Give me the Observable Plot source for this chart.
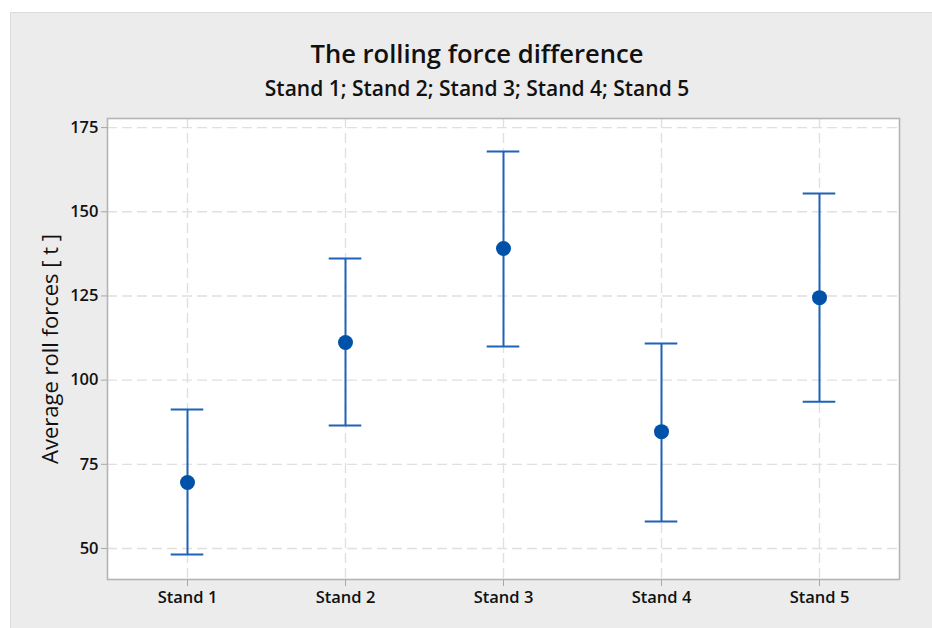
<!DOCTYPE html>
<html>
<head>
<meta charset="utf-8">
<script src="https://cdn.jsdelivr.net/npm/d3@7"></script>
<script src="https://cdn.jsdelivr.net/npm/@observablehq/plot@0.6"></script>
<style>
  html, body { margin: 0; padding: 0; background: #ffffff; }
  #panel {
    position: absolute; left: 10px; top: 12px; width: 922px; height: 616px;
    background: #ececec; border-top: 1px solid #dcdcdc; border-left: 1px solid #dcdcdc;
    box-sizing: border-box; font-family: "Open Sans", sans-serif; color: #111;
  }
  #title { position: absolute; left: 0; width: 932px; top: 23px; text-align: center;
    font-size: 25.6px; font-weight: 600; }
  #subtitle { position: absolute; left: 0; width: 932px; top: 61px; text-align: center;
    font-size: 21px; font-weight: 600; }
  #chart { position: absolute; left: -1px; top: 91px; }
</style>
</head>
<body>
<div id="panel">
  <div id="title">The rolling force difference</div>
  <div id="subtitle">Stand 1; Stand 2; Stand 3; Stand 4; Stand 5</div>
  <div id="chart"></div>
</div>
<script>
const stands = ["Stand 1", "Stand 2", "Stand 3", "Stand 4", "Stand 5"];
const means = [69.6, 111.2, 139.1, 84.7, 124.5];
const lower = [48.2, 86.5, 110.0, 58.0, 93.6];
const upper = [91.3, 136.1, 167.9, 110.9, 155.4];
const yTicks = [50, 75, 100, 125, 150, 175];
const yLabel = "Average roll forces [ t ]";

const data = stands.map((s, i) => ({stand: s, mean: means[i], lo: lower[i], hi: upper[i]}));
const blue = "#1f63b8";
const capInset = (792 / 5 - 33) / 2;

const chart = Plot.plot({
  width: 922,
  height: 525,
  marginTop: 14,
  marginBottom: 50,
  marginLeft: 97,
  marginRight: 33,
  style: {background: "transparent", fontFamily: "'Open Sans', sans-serif", fontSize: "16px", color: "#111"},
  x: {type: "band", domain: stands, padding: 0, label: null},
  y: {domain: [40.8, 177.7], label: null},
  marks: [
    Plot.frame({fill: "white", stroke: null}),
    Plot.gridY(yTicks, {stroke: "#e0e0e0", strokeOpacity: 1, strokeWidth: 1.4, strokeDasharray: "10,5"}),
    Plot.gridX(stands, {stroke: "#e0e0e0", strokeOpacity: 1, strokeWidth: 1.4, strokeDasharray: "10,5"}),
    Plot.frame({stroke: "#b4b4b4", strokeWidth: 1.6}),
    Plot.axisY(yTicks, {tickSize: 6, tickPadding: 3, stroke: "#a8a8a8", fill: "#111", fontWeight: 600, fontSize: 16.5, label: null}),
    Plot.axisX(stands, {tickSize: 7, tickPadding: 5, stroke: "#a8a8a8", fill: "#111", fontWeight: 600, fontSize: 16.5, label: null}),
    Plot.text([yLabel], {frameAnchor: "left", textAnchor: "middle", dx: -57, rotate: -90, fontSize: 22, fill: "#111", text: d => d}),
    Plot.ruleX(data, {x: "stand", y1: "lo", y2: "hi", stroke: blue, strokeWidth: 2}),
    Plot.tickY(data, {x: "stand", y: "hi", stroke: blue, strokeWidth: 2, insetLeft: capInset, insetRight: capInset}),
    Plot.tickY(data, {x: "stand", y: "lo", stroke: blue, strokeWidth: 2, insetLeft: capInset, insetRight: capInset}),
    Plot.dot(data, {x: "stand", y: "mean", r: 7.5, fill: "#0052a8", stroke: null})
  ]
});
document.getElementById("chart").appendChild(chart);
</script>
</body>
</html>
